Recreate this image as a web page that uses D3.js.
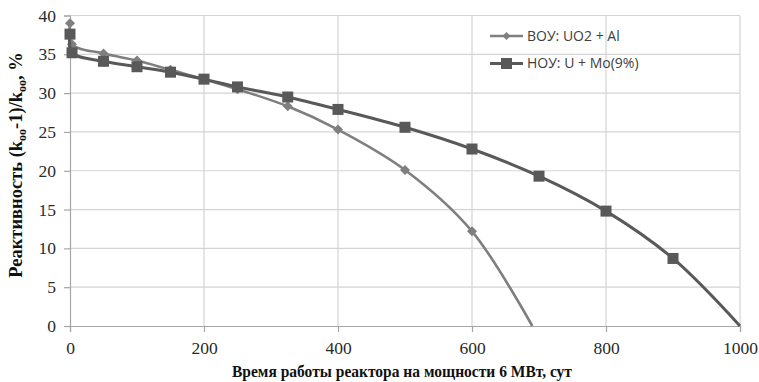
<!DOCTYPE html>
<html>
<head>
<meta charset="utf-8">
<script src="https://cdn.jsdelivr.net/npm/d3@7"></script>
<style>
  body { margin: 0; background: #fff; }
  svg { display: block; }
</style>
</head>
<body>
<svg id="chart" width="759" height="382"></svg>
<script>
// Axis ticks
const xTicks = [0, 200, 400, 600, 800, 1000];
const yTicks = [0, 5, 10, 15, 20, 25, 30, 35, 40];

// ВОУ: UO2 + Al — reactivity (%) vs. days at 6 MW
const heuDays   = [0, 3, 50, 100, 150, 200, 250, 325, 400, 500, 600, 690];
const heuValues = [39.0, 36.3, 35.1, 34.2, 33.0, 31.8, 30.5, 28.3, 25.3, 20.1, 12.2, 0];

// НОУ: U + Mo(9%) — reactivity (%) vs. days at 6 MW
const leuDays   = [0, 3, 50, 100, 150, 200, 250, 325, 400, 500, 600, 700, 800, 900, 1000];
const leuValues = [37.6, 35.2, 34.1, 33.4, 32.7, 31.8, 30.8, 29.5, 27.9, 25.6, 22.8, 19.3, 14.8, 8.7, 0];

const seriesNames = ["ВОУ: UO2 + Al", "НОУ: U + Mo(9%)"];

const svg = d3.select("#chart");
const plot = { left: 70, right: 740, top: 15.5, bottom: 326 };

const x = d3.scaleLinear().domain([0, 1000]).range([plot.left, plot.right]);
const y = d3.scaleLinear().domain([0, 40]).range([plot.bottom, plot.top]);

const gridColor = "#d4d4d4";
const axisColor = "#a6a6a6";

// Gridlines
svg.append("g").selectAll("line.hg").data(yTicks.filter(v => v > 0)).join("line")
  .attr("x1", plot.left).attr("x2", plot.right)
  .attr("y1", d => y(d)).attr("y2", d => y(d))
  .attr("stroke", gridColor).attr("stroke-width", 1.2);
svg.append("g").selectAll("line.vg").data(xTicks.filter(v => v > 0)).join("line")
  .attr("x1", d => x(d)).attr("x2", d => x(d))
  .attr("y1", plot.top).attr("y2", plot.bottom)
  .attr("stroke", gridColor).attr("stroke-width", 1.2);

// Axes
const xAxis = svg.append("g").attr("transform", `translate(0,${plot.bottom})`)
  .call(d3.axisBottom(x).tickValues(xTicks).tickSize(6).tickPadding(9).tickFormat(d3.format("d")));
const yAxis = svg.append("g").attr("transform", `translate(${plot.left},0)`)
  .call(d3.axisLeft(y).tickValues(yTicks).tickSize(6).tickPadding(8).tickFormat(d3.format("d")));

[xAxis, yAxis].forEach(g => {
  g.select(".domain").attr("stroke", axisColor).attr("stroke-width", 1.2);
  g.selectAll(".tick line").attr("stroke", axisColor).attr("stroke-width", 1.2);
  g.selectAll(".tick text")
    .attr("fill", "#2a2a2a")
    .style("font-family", "'Liberation Serif', 'Times New Roman', serif")
    .style("font-size", "17.5px");
});
xAxis.selectAll(".tick text").attr("dy", "0.72em");

// Series lines
const line = d3.line()
  .x(d => x(d[0])).y(d => y(d[1]))
  .curve(d3.curveCatmullRom.alpha(0.5));

const heuPts = heuDays.map((d, i) => [d, heuValues[i]]);
const leuPts = leuDays.map((d, i) => [d, leuValues[i]]);

const heuColor = "#7f7f7f";
const leuColor = "#595959";

svg.append("path").datum(heuPts).attr("d", line)
  .attr("fill", "none").attr("stroke", heuColor).attr("stroke-width", 2.6);

function diamond(cx, cy, r) {
  return `M${cx},${cy - r}L${cx + r},${cy}L${cx},${cy + r}L${cx - r},${cy}Z`;
}

// Markers on computed points (curve end at zero reactivity has none)
svg.append("g").selectAll("path").data(heuPts.filter(p => p[1] > 0)).join("path")
  .attr("d", p => diamond(x(p[0]), y(p[1]), 5))
  .attr("fill", heuColor);

svg.append("path").datum(leuPts).attr("d", line)
  .attr("fill", "none").attr("stroke", leuColor).attr("stroke-width", 3);

const sq = 11;
svg.append("g").selectAll("rect").data(leuPts.filter(p => p[1] > 0)).join("rect")
  .attr("x", p => x(p[0]) - sq / 2).attr("y", p => y(p[1]) - sq / 2)
  .attr("width", sq).attr("height", sq)
  .attr("fill", leuColor);

// Legend
const legend = svg.append("g");
const legendRows = [
  { name: seriesNames[0], color: heuColor, width: 2.6, marker: "diamond", y: 36 },
  { name: seriesNames[1], color: leuColor, width: 3, marker: "square", y: 63.5 }
];
legendRows.forEach(r => {
  legend.append("line").attr("x1", 490).attr("x2", 523)
    .attr("y1", r.y).attr("y2", r.y)
    .attr("stroke", r.color).attr("stroke-width", r.width);
  if (r.marker === "diamond") {
    legend.append("path").attr("d", diamond(506.5, r.y, 4)).attr("fill", r.color);
  } else {
    legend.append("rect").attr("x", 506.5 - 5.5).attr("y", r.y - 5.5)
      .attr("width", 11).attr("height", 11).attr("fill", r.color);
  }
  legend.append("text").attr("x", 527).attr("y", r.y).attr("dy", "0.35em")
    .attr("fill", "#404040")
    .style("font-family", "'Open Sans', 'Noto Sans', sans-serif")
    .style("font-size", "14px")
    .text(r.name);
});

// Axis titles
svg.append("text")
  .attr("x", 402).attr("y", 377)
  .attr("text-anchor", "middle")
  .attr("textLength", 340).attr("lengthAdjust", "spacingAndGlyphs")
  .style("font-family", "'Liberation Serif', 'Times New Roman', serif")
  .style("font-size", "17px").style("font-weight", "bold")
  .attr("fill", "#111")
  .text("Время работы реактора на мощности 6 МВт, сут");

const yTitle = svg.append("text")
  .attr("transform", "translate(22,165) rotate(-90)")
  .attr("text-anchor", "middle")
  .style("font-family", "'Liberation Serif', 'Times New Roman', serif")
  .style("font-size", "18.5px").style("font-weight", "bold")
  .attr("fill", "#111");
yTitle.append("tspan").text("Реактивность (k");
yTitle.append("tspan").attr("dy", 4).style("font-size", "12px").text("oo");
yTitle.append("tspan").attr("dy", -4).text("-1)/k");
yTitle.append("tspan").attr("dy", 4).style("font-size", "12px").text("oo");
yTitle.append("tspan").attr("dy", -4).text(", %");
</script>
</body>
</html>
